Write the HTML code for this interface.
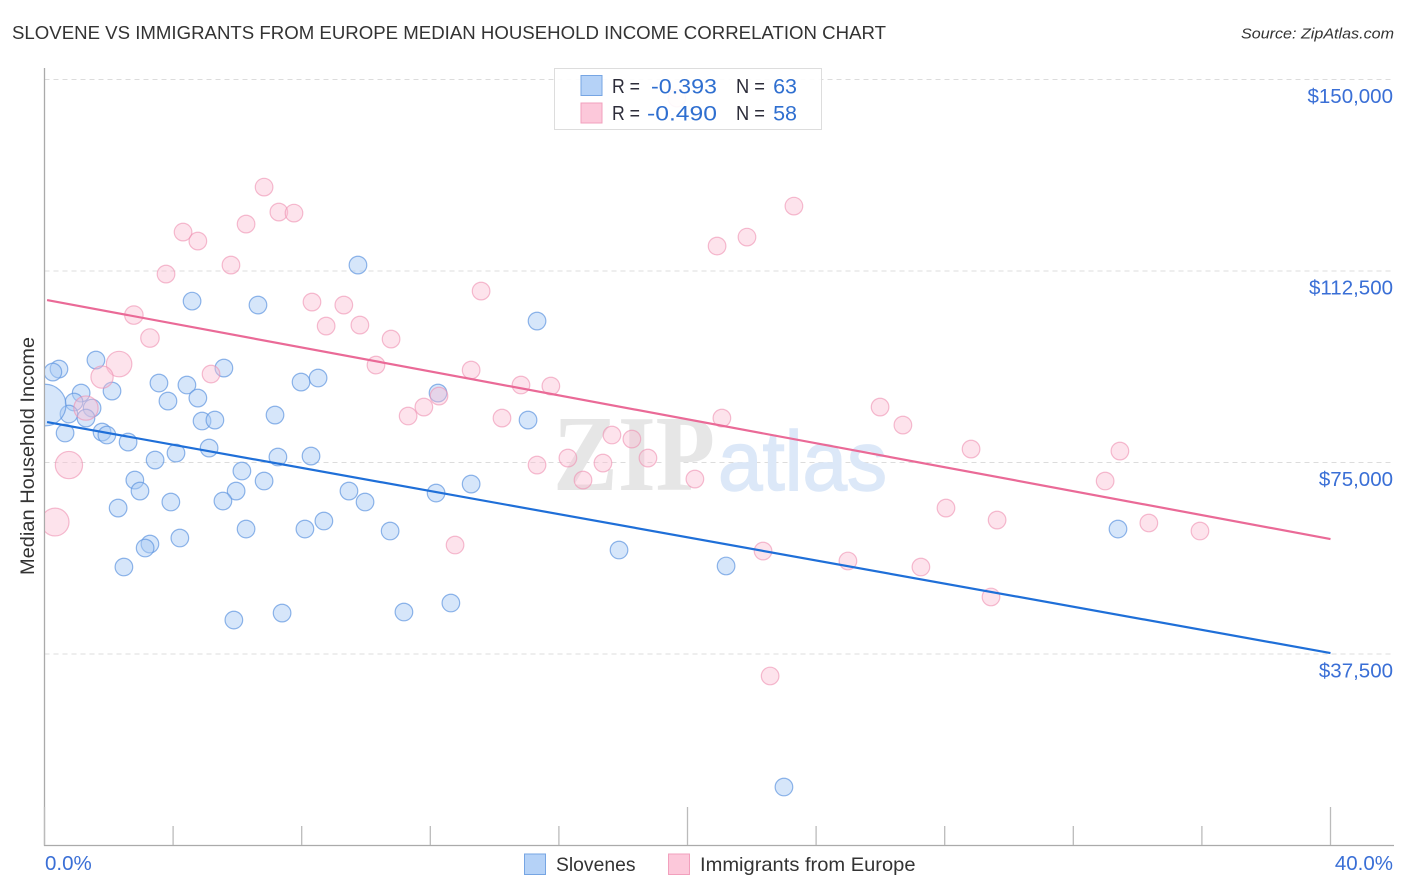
<!DOCTYPE html>
<html lang="en">
<head>
<meta charset="utf-8">
<title>Slovene vs Immigrants from Europe Median Household Income Correlation Chart</title>
<style>
html,body{margin:0;padding:0;background:#fff;width:1406px;height:892px;overflow:hidden}
svg{display:block;font-family:"Liberation Sans",sans-serif}
</style>
</head>
<body>
<svg id="chart" xmlns="http://www.w3.org/2000/svg" width="1406" height="892" viewBox="0 0 1406 892">
  <defs><clipPath id="plot-clip"><rect x="45" y="60" width="1349" height="785"/></clipPath></defs>
  <text x="12" y="39" font-size="18.5" fill="#333" textLength="874" lengthAdjust="spacingAndGlyphs">SLOVENE VS IMMIGRANTS FROM EUROPE MEDIAN HOUSEHOLD INCOME CORRELATION CHART</text>
  <text x="1394" y="38.5" font-size="15" font-style="italic" fill="#333" text-anchor="end" textLength="153" lengthAdjust="spacingAndGlyphs">Source: ZipAtlas.com</text>
  <g id="grid"></g>
  <g>
    <text x="553" y="490" font-family="'Liberation Serif',serif" font-size="108" font-weight="bold" fill="#e6e6e6" textLength="162" lengthAdjust="spacingAndGlyphs">ZIP</text>
    <text x="718" y="490" font-family="'Liberation Sans',sans-serif" font-size="84" font-weight="normal" fill="#dce8f8" stroke="#dce8f8" stroke-width="1.5" textLength="169" lengthAdjust="spacingAndGlyphs">atlas</text>
  </g>
  <g id="axes"></g>
  <g id="points" clip-path="url(#plot-clip)"></g>
  <g id="trends"></g>
  <text transform="translate(34 456) rotate(-90)" font-size="19.5" fill="#333" text-anchor="middle" textLength="238" lengthAdjust="spacingAndGlyphs">Median Household Income</text>
  <g>
    <rect x="554.5" y="68.5" width="267" height="61" fill="#fff" fill-opacity="0.9" stroke="#ddd" stroke-width="1"/>
    <rect x="581" y="75.5" width="21" height="20" fill="#b5d2f7" stroke="#76a5e3" stroke-width="1"/>
    <rect x="581" y="103" width="21" height="20" fill="#fcc8da" stroke="#f2a0bd" stroke-width="1"/>
    <text x="612" y="93" font-size="20" fill="#2d2d3a" textLength="28" lengthAdjust="spacingAndGlyphs">R =</text>
    <text x="717" y="93.5" font-size="21.5" fill="#2f6fd0" text-anchor="end" textLength="66" lengthAdjust="spacingAndGlyphs">-0.393</text>
    <text x="736" y="93" font-size="20" fill="#2d2d3a" textLength="29" lengthAdjust="spacingAndGlyphs">N =</text>
    <text x="797" y="93.5" font-size="21.5" fill="#2f6fd0" text-anchor="end">63</text>
    <text x="612" y="120" font-size="20" fill="#2d2d3a" textLength="28" lengthAdjust="spacingAndGlyphs">R =</text>
    <text x="717" y="120.5" font-size="21.5" fill="#2f6fd0" text-anchor="end" textLength="70" lengthAdjust="spacingAndGlyphs">-0.490</text>
    <text x="736" y="120" font-size="20" fill="#2d2d3a" textLength="29" lengthAdjust="spacingAndGlyphs">N =</text>
    <text x="797" y="120.5" font-size="21.5" fill="#2f6fd0" text-anchor="end">58</text>
  </g>
  <g>
    <rect x="524.5" y="854" width="21" height="20.5" fill="#b5d2f7" stroke="#76a5e3" stroke-width="1"/>
    <text x="556" y="871" font-size="19.5" fill="#333" textLength="79.5" lengthAdjust="spacingAndGlyphs">Slovenes</text>
    <rect x="668.5" y="854" width="21" height="20.5" fill="#fcc8da" stroke="#f2a0bd" stroke-width="1"/>
    <text x="700" y="871" font-size="19.5" fill="#333" textLength="215.5" lengthAdjust="spacingAndGlyphs">Immigrants from Europe</text>
  </g>
</svg>
<script>
// x = share of immigrants (%), y = median household income ($), w = relative sample weight
const blueX = [9.75,4.59,6.64,15.32,1.60,0.45,0.26,5.58,3.56,4.43,7.98,8.51,2.10,1.14,3.84,4.77,0.92,12.24,1.48,0.76,1.29,4.90,5.30,7.17,15.04,0.64,1.79,1.94,2.60,5.12,4.09,3.44,7.26,8.29,6.14,2.81,6.83,2.97,5.96,9.47,13.27,12.18,3.93,5.55,9.97,2.29,8.69,6.27,8.10,10.75,33.39,4.21,3.28,3.13,17.87,2.47,21.20,12.64,11.18,7.39,5.89,23.00,0.02];
const blueY = [113660,106600,105830,102700,95060,93300,92710,93490,90560,90170,90750,91540,88990,88600,87030,87620,86840,88600,85660,84490,83700,83120,83310,84290,83310,80770,80960,80380,79000,77830,76850,75480,76070,76260,73330,71560,71370,69410,69410,69410,70780,69020,67260,67450,67260,66080,63540,61970,61970,61580,61970,60210,59030,58250,57860,54530,54730,47480,45720,45520,44150,11450,86250];
const blueW = [1,1,1,1,1,1,1,1,1,1,1,1,1,1,1,1,1,1,1,1,1,1,1,1,1,1,1,1,1,1,1,1,1,1,1,1,1,1,1,1,1,1,1,1,1,1,1,1,1,1,1,1,1,1,1,1,1,1,1,1,1,1,5.6];
const pinkX = [6.83,23.31,7.29,7.76,6.27,4.31,4.77,21.85,20.92,5.80,3.78,13.58,8.32,9.31,2.78,8.76,9.81,3.28,10.78,10.31,13.27,2.32,1.79,5.18,14.82,15.75,1.29,12.27,11.80,11.31,14.23,21.07,25.99,26.70,17.65,18.27,28.82,33.45,16.28,18.77,15.32,17.37,16.75,20.23,32.99,0.76,28.04,29.63,34.35,35.94,0.33,12.77,22.35,24.99,27.26,29.44,22.57,19.67];
const pinkY = [128930,125210,124040,123840,121690,120120,118360,119140,117380,113660,111900,108570,106420,105830,103870,101720,101910,99370,99170,94080,93100,94280,91730,92320,90170,89970,85660,88010,85860,84100,83700,83700,85860,82330,80380,79590,77630,77240,75870,75870,74500,74890,71560,71760,71370,74500,66080,63730,63150,61580,63340,58840,57660,55710,54530,48660,33190,146360];
const pinkW = [1,1,1,1,1,1,1,1,1,1,1,1,1,1,1.1,1,1,1.1,1,1,1,2.1,1.6,1,1,1,1.9,1,1,1,1,1,1,1,1,1,1,1,1,1,1,1,1,1,1,2.4,1,1,1,1,2.5,1,1,1,1,1,1,1];
const blueTrendX = [0.08, 40];
const blueTrendY = [82920, 37690];
const pinkTrendX = [0.08, 40];
const pinkTrendY = [106810, 60010];
const yTicks = [150000, 112500, 75000, 37500];
const yTickLabels = ["$150,000", "$112,500", "$75,000", "$37,500"];
const xTicks = [0,4,8,12,16,20,24,28,32,36,40];
const xMajorTicks = [0,20,40];
const xEndLabels = ["0.0%", "40.0%"];

const NS = "http://www.w3.org/2000/svg";
function sx(v){ return 44.5 + v * 32.15; }
function sy(v){ return 845.5 - v * 191.5 / 37500; }
function rad(w){ return 8.8 * Math.sqrt(w); }
function make(tag, attrs, parent){
  const el = document.createElementNS(NS, tag);
  for (const k in attrs) el.setAttribute(k, attrs[k]);
  parent.appendChild(el);
  return el;
}
const grid = document.getElementById("grid");
const axes = document.getElementById("axes");
const points = document.getElementById("points");
const trends = document.getElementById("trends");

yTicks.forEach(function(t, i){
  const g = make("line", {x1:44.5, x2:1394, y1:sy(t), y2:sy(t), stroke:"#dcdcdc", "stroke-width":1, "stroke-dasharray":"5 4"}, grid);
  
  
  const lab = make("text", {x:1393, y:sy(t)+23.5, "font-size":20.5, fill:"#3a6fd6", "text-anchor":"end"}, axes);
  
  
  lab.textContent = yTickLabels[i];
});

const yAxis = make("line", {x1:44.5, x2:44.5, y1:68, y2:846, stroke:"#aaa", "stroke-width":1.3}, axes);


const xAxis = make("line", {x1:44, x2:1394, y1:845.5, y2:845.5, stroke:"#aaa", "stroke-width":1.3}, axes);


xTicks.forEach(function(t){
  const top = xMajorTicks.indexOf(t) >= 0 ? 807 : 826;
  const tick = make("line", {x1:sx(t), x2:sx(t), y1:top, y2:845, stroke:"#bbb", "stroke-width":1.3}, axes);
  
  
});
const x0 = make("text", {x:45, y:870, "font-size":20.5, fill:"#3a6fd6"}, axes);


x0.textContent = xEndLabels[0];
const x1 = make("text", {x:1393, y:870, "font-size":20.5, fill:"#3a6fd6", "text-anchor":"end"}, axes);


x1.textContent = xEndLabels[1];

blueX.forEach(function(v, i){
  const c = make("circle", {cx:sx(v), cy:sy(blueY[i]), r:rad(blueW[i]), fill:"#a9cbf5", "fill-opacity":0.48, stroke:"#5f95e0", "stroke-opacity":0.7, "stroke-width":1.2}, points);
  
  
});
pinkX.forEach(function(v, i){
  const c = make("circle", {cx:sx(v), cy:sy(pinkY[i]), r:rad(pinkW[i]), fill:"#fbbcd2", "fill-opacity":0.42, stroke:"#ee8fb0", "stroke-opacity":0.6, "stroke-width":1.2}, points);
  
  
});

const blueLine = make("line", {x1:sx(blueTrendX[0]), y1:sy(blueTrendY[0]), x2:sx(blueTrendX[1]), y2:sy(blueTrendY[1]), stroke:"#1f6fd8", "stroke-width":2.2}, trends);


const pinkLine = make("line", {x1:sx(pinkTrendX[0]), y1:sy(pinkTrendY[0]), x2:sx(pinkTrendX[1]), y2:sy(pinkTrendY[1]), stroke:"#ea6a97", "stroke-width":2.2}, trends);


</script>
</body>
</html>
